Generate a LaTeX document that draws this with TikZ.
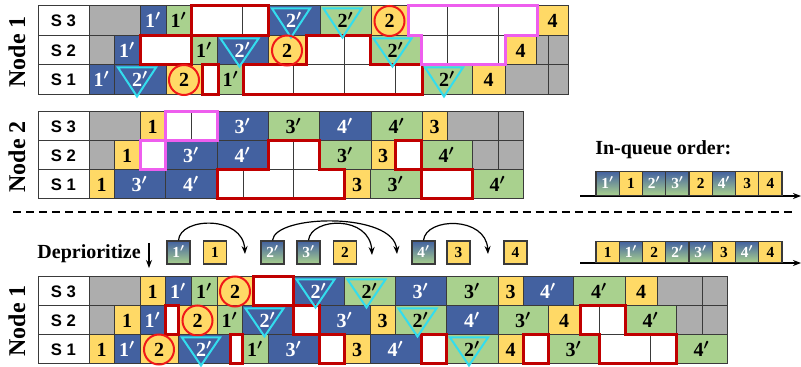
\documentclass[tikz,border=0pt]{standalone}
\usepackage{fontspec}
\setmainfont{Liberation Serif}
\setsansfont{Liberation Sans}
\usetikzlibrary{arrows.meta}
\definecolor{cblue}{HTML}{4361A0}
\definecolor{cgreen}{HTML}{A9D18E}
\definecolor{cyellow}{HTML}{FFD966}
\definecolor{cgray}{HTML}{ADADAD}
\definecolor{gridc}{HTML}{3A3A3A}
\definecolor{dred}{HTML}{C00000}
\definecolor{cmag}{HTML}{EE5EEE}
\definecolor{ccyan}{HTML}{33DDEE}
\definecolor{cred}{HTML}{F01818}
\newcommand\myprime{{\boldmath$'$}}
\newcommand\setrow[2]{\def\ya{#1}\def\yb{#2}}
\newcommand\mkcell[4]{\path[cell,f#3] (#1,\ya) rectangle (#2,\yb); \node[num,t#3] at ({(#1+#2)/2},{(\ya+\yb)/2}) {#4};}
\newcommand\mklab[1]{\path[cell,fW] (38,\ya) rectangle (89,\yb); \node[slab] at (63.5,{(\ya+\yb)/2}) {#1};}
\newcommand\mktri[2]{\draw[trist] ({(#1+#2)/2-22},{\ya+2.5}) -- ({(#1+#2)/2+16},{\ya+2.5}) -- ({(#1+#2)/2-3},{\yb+1.5}) -- cycle;}
\newcommand\mkcir[2]{\draw[cirst] ({(#1+#2)/2},{(\ya+\yb)/2}) circle[radius=15];}
\tikzset{
 cell/.style={draw=gridc, line width=0.75pt},
 fB/.style={fill=cblue}, tB/.style={text=white},
 fG/.style={fill=cgreen}, tG/.style={text=black},
 fY/.style={fill=cyellow}, tY/.style={text=black},
 fA/.style={fill=cgray}, tA/.style={},
 fW/.style={fill=white}, tW/.style={},
 num/.style={font=\fontsize{15}{15}\selectfont\bfseries, inner sep=0pt, text height=10pt, text depth=0pt},
 slab/.style={font=\sffamily\bfseries\fontsize{12.5}{12.5}\selectfont, inner sep=0pt},
 nodelab/.style={font=\fontsize{18}{18}\selectfont\bfseries, rotate=90, inner sep=0pt},
 redbox/.style={draw=dred, line width=2.25pt, line join=miter},
 magbox/.style={draw=cmag, line width=2.25pt, line join=miter},
 trist/.style={draw=ccyan, line width=1.5pt, line join=miter},
 cirst/.style={draw=cred, line width=1.5pt},
 qbox/.style={draw=gridc, line width=1pt, inner sep=0pt, minimum width=17.4pt, font=\fontsize{11.5}{11.5}\selectfont\bfseries, text height=7.8pt, text depth=0pt},
 qY/.style={fill=cyellow, text=black},
 qG/.style={top color=cblue, bottom color=cgreen, text=white},
 axisline/.style={line width=1.1pt, -{Stealth[length=6pt,width=4.5pt]}},
 curv/.style={line width=0.9pt, -{Stealth[length=6pt,width=4.5pt]}},
 bigtext/.style={font=\fontsize{15}{15}\selectfont\bfseries, inner sep=0pt},
}
\begin{document}
\begin{tikzpicture}[x=0.75pt,y=-0.75pt]
\useasboundingbox (0,0) rectangle (801,367);

% ================= TOP: Node 1 =================
\node[nodelab] (n1top) at (17,52) {Node 1};
\setrow{6}{36}
\mklab{S 3}
\mkcell{89}{140}{A}{}
\mkcell{140}{166}{B}{1\myprime}
\mkcell{166}{191}{G}{1\myprime}
\mkcell{191}{242}{W}{}
\mkcell{242}{268}{W}{}
\mkcell{268}{320}{B}{2\myprime}
\mkcell{320}{371}{G}{2\myprime}
\mkcell{371}{408}{Y}{2}
\mkcell{408}{447}{W}{}
\mkcell{447}{498}{W}{}
\mkcell{498}{537}{W}{}
\mkcell{537}{568}{Y}{4}
\setrow{36}{65}
\mklab{S 2}
\mkcell{89}{114}{A}{}
\mkcell{114}{140}{B}{1\myprime}
\mkcell{140}{191}{W}{}
\mkcell{191}{217}{G}{1\myprime}
\mkcell{217}{268}{B}{2\myprime}
\mkcell{268}{306}{Y}{2}
\mkcell{306}{344}{W}{}
\mkcell{344}{370}{W}{}
\mkcell{370}{421}{G}{2\myprime}
\mkcell{421}{447}{W}{}
\mkcell{447}{498}{W}{}
\mkcell{498}{505}{W}{}
\mkcell{505}{536}{Y}{4}
\mkcell{536}{548}{A}{}
\mkcell{548}{568}{A}{}
\setrow{65}{95}
\mklab{S 1}
\mkcell{89}{114}{B}{1\myprime}
\mkcell{114}{166}{B}{2\myprime}
\mkcell{166}{202}{Y}{2}
\mkcell{202}{218}{W}{}
\mkcell{218}{243}{G}{1\myprime}
\mkcell{243}{293}{W}{}
\mkcell{293}{344}{W}{}
\mkcell{344}{395}{W}{}
\mkcell{395}{422}{W}{}
\mkcell{422}{472}{G}{2\myprime}
\mkcell{472}{505}{Y}{4}
\mkcell{505}{548}{A}{}
\mkcell{548}{568}{A}{}
% outlines
\draw[redbox] (191,6) rectangle (268,36);
\draw[redbox] (140,36) rectangle (191,65);
\draw[redbox] (202,65) rectangle (218,95);
\draw[redbox] (306,36) -- (370,36) -- (370,65) -- (422,65) -- (422,95) -- (243,95) -- (243,65) -- (306,65) -- cycle;
\draw[magbox] (408,6) -- (537,6) -- (537,36) -- (505,36) -- (505,65) -- (421,65) -- (421,36) -- (408,36) -- cycle;
\setrow{6}{36} \mktri{268}{320} \mktri{320}{371} \mkcir{371}{408}
\setrow{36}{65} \mktri{217}{268} \mkcir{268}{306} \mktri{370}{421}
\setrow{65}{95} \mktri{114}{166} \mkcir{166}{202} \mktri{422}{472}

% ================= Node 2 =================
\node[nodelab] (n2) at (17,157) {Node 2};
\setrow{112}{141}
\mklab{S 3}
\mkcell{89}{140}{A}{}
\mkcell{140}{165}{Y}{1}
\mkcell{165}{191}{W}{}
\mkcell{191}{217}{W}{}
\mkcell{217}{268}{B}{3\myprime}
\mkcell{268}{319}{G}{3\myprime}
\mkcell{319}{371}{B}{4\myprime}
\mkcell{371}{422}{G}{4\myprime}
\mkcell{422}{447}{Y}{3}
\mkcell{447}{498}{A}{}
\mkcell{498}{523}{A}{}
\setrow{141}{170}
\mklab{S 2}
\mkcell{89}{114}{A}{}
\mkcell{114}{140}{Y}{1}
\mkcell{140}{165}{W}{}
\mkcell{165}{217}{B}{3\myprime}
\mkcell{217}{268}{B}{4\myprime}
\mkcell{268}{293}{W}{}
\mkcell{293}{319}{W}{}
\mkcell{319}{371}{G}{3\myprime}
\mkcell{371}{395}{Y}{3}
\mkcell{395}{421}{W}{}
\mkcell{421}{472}{G}{4\myprime}
\mkcell{472}{498}{A}{}
\mkcell{498}{523}{A}{}
\setrow{170}{199}
\mklab{S 1}
\mkcell{89}{114}{Y}{1}
\mkcell{114}{165}{B}{3\myprime}
\mkcell{165}{217}{B}{4\myprime}
\mkcell{217}{243}{W}{}
\mkcell{243}{293}{W}{}
\mkcell{293}{344}{W}{}
\mkcell{344}{370}{Y}{3}
\mkcell{370}{421}{G}{3\myprime}
\mkcell{421}{472}{W}{}
\mkcell{472}{523}{G}{4\myprime}
\draw[redbox] (268,141) -- (319,141) -- (319,170) -- (344,170) -- (344,199) -- (217,199) -- (217,170) -- (268,170) -- cycle;
\draw[redbox] (395,141) rectangle (421,170);
\draw[redbox] (421,170) rectangle (472,199);
\draw[magbox] (165,112) rectangle (217,141);
\draw[magbox] (140,141) rectangle (165,170);

% ================= In-queue order =================
\node[bigtext, anchor=base west] (iqo) at (595,155) {In-queue order:};
\coordinate (ax1s) at (580,196);
\coordinate (ax1e) at (801,196);
\draw[axisline] (ax1s) -- (ax1e);
\begin{scope}[every node/.style={qbox, minimum height=18pt, anchor=south}]
\node[qG] (t1) at (607.6,196) {1\myprime};
\node[qY] (t2) at (630.9,196) {1};
\node[qG] (t3) at (654.1,196) {2\myprime};
\node[qG] (t4) at (677.4,196) {3\myprime};
\node[qY] (t5) at (700.6,196) {2};
\node[qG] (t6) at (723.9,196) {4\myprime};
\node[qY] (t7) at (747.1,196) {3};
\node[qY] (t8) at (770.4,196) {4};
\end{scope}

% dashed separator
\coordinate (dls) at (13,212);
\coordinate (dle) at (796,212);
\draw[line width=1.5pt, dash pattern=on 6pt off 3.8pt] (dls) -- (dle);

% ================= Deprioritize row =================
\node[bigtext, anchor=base east] (dep) at (141,259) {Deprioritize};
\coordinate (das) at (149,243);
\coordinate (dae) at (149,268);
\draw[curv] (das) -- (dae);
\begin{scope}[every node/.style={qbox, minimum height=17.25pt, minimum width=17.25pt}]
\node[qG] (q1p) at (178.5,252.5) {1\myprime};
\node[qY] (q1) at (215,252.5) {1};
\node[qG] (q2p) at (272.5,252.5) {2\myprime};
\node[qG] (q3p) at (308.5,252.5) {3\myprime};
\node[qY] (q2) at (345,252.5) {2};
\node[qG] (q4p) at (423.5,252.5) {4\myprime};
\node[qY] (q3) at (458.5,252.5) {3};
\node[qY] (q4) at (515.5,252.5) {4};
\end{scope}
\coordinate (e1) at (245,254);
\coordinate (e2) at (397,254);
\coordinate (e3) at (372,255);
\coordinate (e4) at (488,254);
\draw[curv] (q1p.north) .. controls (180,217) and (243,215) .. (e1);
\draw[curv] (q2p.north) .. controls (275,214) and (394,212) .. (e2);
\draw[curv] (q3p.north) .. controls (311,217) and (370,215) .. (e3);
\draw[curv] (q4p.north) .. controls (426,217) and (486,216) .. (e4);

% bottom right queue
\coordinate (ax2s) at (580,263);
\coordinate (ax2e) at (801,263);
\draw[axisline] (ax2s) -- (ax2e);
\begin{scope}[every node/.style={qbox, minimum height=15.75pt, anchor=south}]
\node[qY] (b1) at (607.6,263) {1};
\node[qG] (b2) at (630.9,263) {1\myprime};
\node[qY] (b3) at (654.1,263) {2};
\node[qG] (b4) at (677.4,263) {2\myprime};
\node[qG] (b5) at (700.6,263) {3\myprime};
\node[qY] (b6) at (723.9,263) {3};
\node[qG] (b7) at (747.1,263) {4\myprime};
\node[qY] (b8) at (770.4,263) {4};
\end{scope}

% ================= BOTTOM: Node 1 =================
\node[nodelab] (n1bot) at (17,321) {Node 1};
\setrow{277}{306}
\mklab{S 3}
\mkcell{89}{140}{A}{}
\mkcell{140}{165}{Y}{1}
\mkcell{165}{191}{B}{1\myprime}
\mkcell{191}{217}{G}{1\myprime}
\mkcell{217}{253}{Y}{2}
\mkcell{253}{293}{W}{}
\mkcell{293}{344}{B}{2\myprime}
\mkcell{344}{395}{G}{2\myprime}
\mkcell{395}{446}{B}{3\myprime}
\mkcell{446}{498}{G}{3\myprime}
\mkcell{498}{523}{Y}{3}
\mkcell{523}{573}{B}{4\myprime}
\mkcell{573}{625}{G}{4\myprime}
\mkcell{625}{657}{Y}{4}
\mkcell{657}{702}{A}{}
\mkcell{702}{727}{A}{}
\setrow{306}{335}
\mklab{S 2}
\mkcell{89}{114}{A}{}
\mkcell{114}{140}{Y}{1}
\mkcell{140}{165}{B}{1\myprime}
\mkcell{165}{178}{W}{}
\mkcell{178}{217}{Y}{2}
\mkcell{217}{242}{G}{1\myprime}
\mkcell{242}{293}{B}{2\myprime}
\mkcell{293}{319}{W}{}
\mkcell{319}{370}{B}{3\myprime}
\mkcell{370}{395}{Y}{3}
\mkcell{395}{446}{G}{2\myprime}
\mkcell{446}{498}{B}{4\myprime}
\mkcell{498}{548}{G}{3\myprime}
\mkcell{548}{580}{Y}{4}
\mkcell{580}{599}{W}{}
\mkcell{599}{625}{W}{}
\mkcell{625}{676}{G}{4\myprime}
\mkcell{676}{702}{A}{}
\mkcell{702}{727}{A}{}
\setrow{335}{364}
\mklab{S 1}
\mkcell{89}{114}{Y}{1}
\mkcell{114}{140}{B}{1\myprime}
\mkcell{140}{178}{Y}{2}
\mkcell{178}{230}{B}{2\myprime}
\mkcell{230}{242}{W}{}
\mkcell{242}{268}{G}{1\myprime}
\mkcell{268}{319}{B}{3\myprime}
\mkcell{319}{344}{W}{}
\mkcell{344}{370}{Y}{3}
\mkcell{370}{421}{B}{4\myprime}
\mkcell{421}{446}{W}{}
\mkcell{446}{498}{G}{2\myprime}
\mkcell{498}{523}{Y}{4}
\mkcell{523}{548}{W}{}
\mkcell{548}{599}{G}{3\myprime}
\mkcell{599}{650}{W}{}
\mkcell{650}{676}{W}{}
\mkcell{676}{727}{G}{4\myprime}
\draw[redbox] (253,277) rectangle (293,306);
\draw[redbox] (165,306) rectangle (178,335);
\draw[redbox] (230,335) rectangle (242,364);
\draw[redbox] (293,306) rectangle (319,335);
\draw[redbox] (319,335) rectangle (344,364);
\draw[redbox] (421,335) rectangle (446,364);
\draw[redbox] (523,335) rectangle (548,364);
\draw[redbox] (580,306) -- (625,306) -- (625,335) -- (676,335) -- (676,364) -- (599,364) -- (599,335) -- (580,335) -- cycle;
\setrow{277}{306} \mkcir{217}{253} \mktri{293}{344} \mktri{344}{395}
\setrow{306}{335} \mkcir{178}{217} \mktri{242}{293} \mktri{395}{446}
\setrow{335}{364} \mkcir{140}{178} \mktri{178}{230} \mktri{446}{498}
\end{tikzpicture}
\end{document}
